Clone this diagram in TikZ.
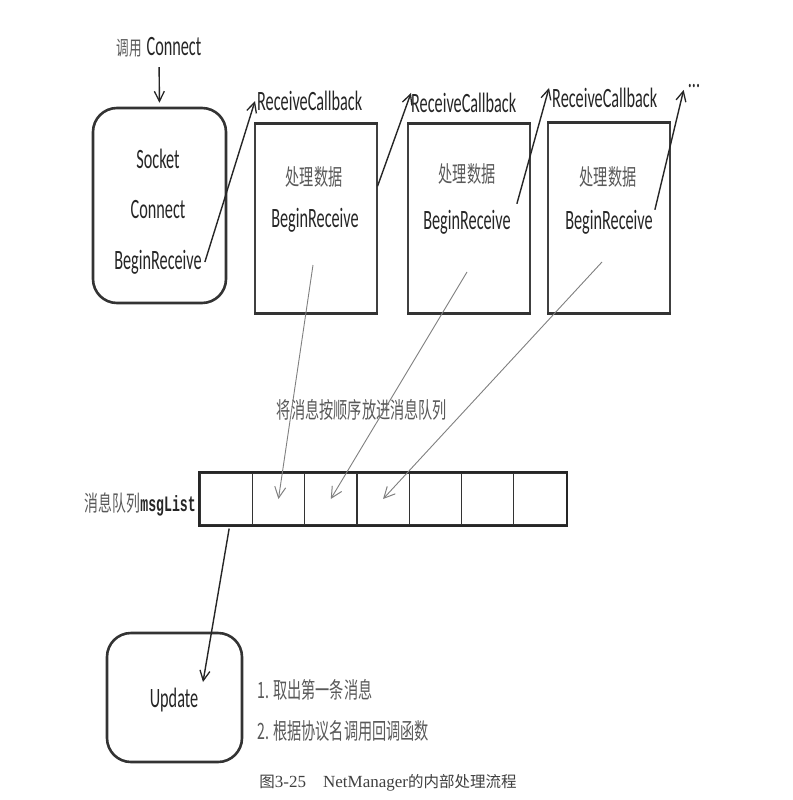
\documentclass[tikz,border=0pt]{standalone}
\usepackage{fontspec}
\usetikzlibrary{arrows.meta,calc}
\newfontfamily\calf{Carlito}
\newfontfamily\cjkf{Noto Sans CJK SC}
\newfontfamily\monof{Liberation Mono}
\newfontfamily\serf{Liberation Serif}
\newcommand\cnd[1]{\scalebox{0.58}[1]{#1}}
\newcommand\cjc[1]{\scalebox{0.63}[1]{#1}}
\begin{document}
\begin{tikzpicture}[x=1pt,y=-1pt,
  lat/.style={font=\calf\fontsize{28}{28}\selectfont, inner sep=0pt, text=black!85},
  han/.style={font=\cjkf\fontsize{22.5}{22.5}\selectfont, inner sep=0pt, text=black!65},
  arr/.style={draw=black!85, line width=1.4pt, -{Straight Barb[length=10pt,width=10pt,line width=1.3pt]}},
  garr/.style={draw=black!50, line width=0.9pt, -{Straight Barb[length=11pt,width=11pt,line width=1pt]}},
  rbox/.style={draw=black!80, line width=2.6pt, rounded corners=24pt},
  pbox/.style={draw=black!75, line width=1.1pt, minimum width=122pt, minimum height=189pt, inner sep=0pt},
  cell/.style={draw=black!80, line width=1.2pt, minimum width=52.3pt, minimum height=52pt, inner sep=0pt},
  thick edge/.style={draw=black!80, line width=3pt}]
\useasboundingbox[fill=white] (0,0) rectangle (792,800);

% top-left call
\node[lat] (call) at (159,47) {\cjc{\cjkf\fontsize{20}{20}\selectfont\color{black!65}调用}\,\cnd{Connect}};

% box 1
\node[rbox, minimum width=133pt, minimum height=195pt] (box1) at (159.5,205.5) {};
\node[lat] (sock) at (158,159) {\cnd{Socket}};
\node[lat] (conn) at (158,210) {\cnd{Connect}};
\node[lat] (br1) at (158,262) {\cnd{BeginReceive}};
\draw[arr, shorten <=10pt, shorten >=4pt] (call.south) -- (box1.north);

% process boxes
\node[pbox] (b2) at (316,218.5) {};
\node[pbox] (b3) at (469,218.5) {};
\node[pbox] (b4) at (609,218) {};
\foreach \b in {b2,b3,b4}{
  \draw[thick edge] (\b.north west) -- (\b.north east);
  \draw[thick edge] (\b.south west) -- (\b.south east);
}
\node[lat, anchor=west] (rc2) at (257,101) {\cnd{ReceiveCallback}};
\node[lat, anchor=west] (rc3) at (411,103) {\cnd{ReceiveCallback}};
\node[lat, anchor=west] (rc4) at (552,98) {\cnd{ReceiveCallback}};
\node[lat] (dots) at (694,86) {\cnd{...}};

\node[han] (p2) at (314,177) {\cjc{处理数据}};
\node[lat] (br2) at (315,220) {\cnd{BeginReceive}};
\node[han] (p3) at (467,174) {\cjc{处理数据}};
\node[lat] (br3) at (467,222) {\cnd{BeginReceive}};
\node[han] (p4) at (608,177) {\cjc{处理数据}};
\node[lat] (br4) at (609,222) {\cnd{BeginReceive}};

% callback arrows
\coordinate (a2s) at ($(b2.north east)!0.33!(b2.south east)$);
\draw[arr] ([xshift=3pt]br1.east) -- ([xshift=-2pt]rc2.west);
\draw[arr] (a2s) -- (rc3.north west);
\draw[arr] ([xshift=6pt,yshift=6pt]br3.north east) -- ([xshift=-3pt]rc4.north west);
\draw[arr] ([xshift=2pt]br4.north east) -- ([xshift=-4pt,yshift=-2pt]dots.south west);

% queue
\foreach \i in {1,...,7}{
  \node[cell] (q\i) at ({200+26.15+52.3*(\i-1)},499) {};
}
\draw[draw=black!85, line width=2pt] (q1.north west) rectangle (q7.south east);
\node[anchor=east, inner sep=0pt] (ql) at (196,504) {\cjc{\cjkf\fontsize{22}{22}\selectfont\color{black!65}消息队列}\scalebox{0.6}[1]{\monof\bfseries\fontsize{22}{22}\selectfont\color{black!85}msgList}};

\node[han] (put) at (362,410) {\cjc{将消息按顺序放进消息队列}};

% gray arrows into queue
\coordinate (g1) at (313,265);
\coordinate (g2) at (467,272);
\coordinate (g3) at (602,262);
\draw[garr] (g1) -- (q2.center);
\draw[garr] (g2) -- (q3.center);
\draw[garr] (g3) -- (q4.center);

% update
\node[rbox, minimum width=135pt, minimum height=129pt] (upd) at (174.5,697.5) {};
\node[lat] (updt) at (174,700) {\cnd{Update}};
\coordinate (ut) at (203,682);
\draw[arr] ([xshift=3pt,yshift=-3pt]q1.south) -- (ut);

\node[han, anchor=west] (s1) at (257,690) {\cjc{1. 取出第一条消息}};
\node[han, anchor=west] (s2) at (257,731) {\cjc{2. 根据协议名调用回调函数}};

% caption
\node[inner sep=0pt, text=black!75] (cap) at (388,783) {{\cjkf\fontsize{15.5}{16}\selectfont 图}{\serf\fontsize{17}{17}\selectfont 3-25\hspace{1em}NetManager}{\cjkf\fontsize{15.5}{16}\selectfont 的内部处理流程}};
\end{tikzpicture}
\end{document}
